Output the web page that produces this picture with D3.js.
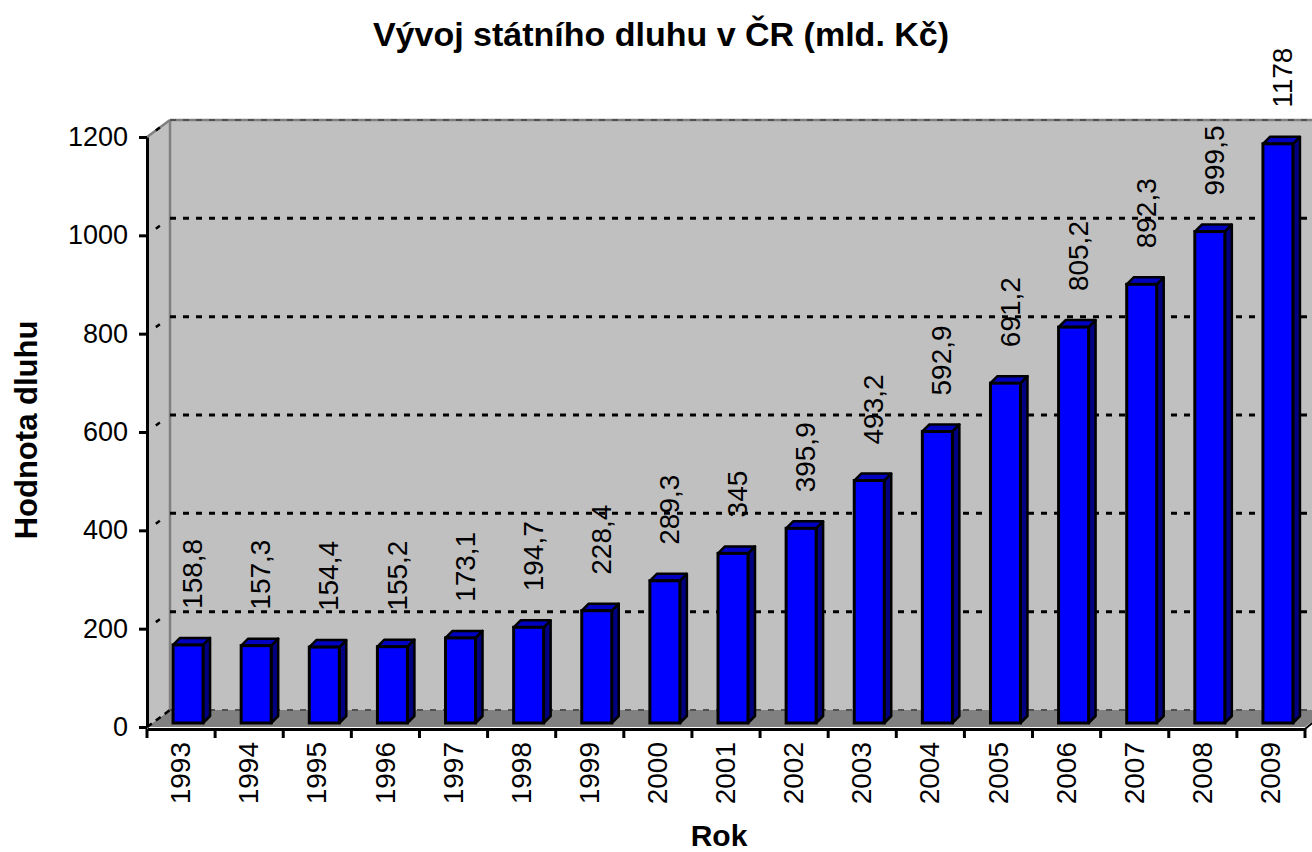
<!DOCTYPE html>
<html>
<head>
<meta charset="utf-8">
<script src="https://cdn.jsdelivr.net/npm/d3@7"></script>
<style>
  body { margin: 0; background: #fff; }
  svg { display: block; }
  text { font-family: "Liberation Sans", Arial, sans-serif; fill: #000; }
</style>
</head>
<body>
<svg id="chart" width="1312" height="852"></svg>
<script>
const years = ["1993","1994","1995","1996","1997","1998","1999","2000","2001",
  "2002","2003","2004","2005","2006","2007","2008","2009"];
const debt = [158.8, 157.3, 154.4, 155.2, 173.1, 194.7, 228.4, 289.3, 345,
  395.9, 493.2, 592.9, 691.2, 805.2, 892.3, 999.5, 1178];
const debtLabels = ["158,8","157,3","154,4","155,2","173,1","194,7","228,4","289,3","345",
  "395,9","493,2","592,9","691,2","805,2","892,3","999,5","1178"];
const yTicks = [0, 200, 400, 600, 800, 1000, 1200];

const svg = d3.select("#chart");
const wallDx = 23, wallDy = -17;   // depth of the back wall
const barDx = 7, barDy = -7;       // depth of each bar
const frontDx = 7, frontDy = -4;   // bar front face offset into the floor
const barW = 30;
const font = "Liberation Sans, Arial, sans-serif";

const xScale = d3.scaleBand().domain(years).range([147, 1305]);
const yScale = d3.scaleLinear().domain([0, 1200]).range([727, 137]);
const x0 = xScale.range()[0], x1 = xScale.range()[1];
const yBottom = yScale(0), yTop = yScale(1200);

// back wall
svg.append("rect")
  .attr("x", x0 + wallDx).attr("y", yTop + wallDy)
  .attr("width", x1 - x0).attr("height", yBottom - yTop)
  .attr("fill", "#c0c0c0");

// left side wall
svg.append("polygon")
  .attr("points", [[x0, yBottom], [x0, yTop], [x0 + wallDx, yTop + wallDy], [x0 + wallDx, yBottom + wallDy]].join(" "))
  .attr("fill", "#c0c0c0");

// floor
svg.append("polygon")
  .attr("points", [[x0, yBottom], [x1, yBottom], [x1 + wallDx, yBottom + wallDy], [x0 + wallDx, yBottom + wallDy]].join(" "))
  .attr("fill", "#808080");

// wall edges
svg.append("line")
  .attr("x1", x0 + wallDx).attr("x2", x0 + wallDx)
  .attr("y1", yTop + wallDy).attr("y2", yBottom + wallDy)
  .attr("stroke", "#808080").attr("stroke-width", 2.5);
svg.append("line")
  .attr("x1", x0).attr("y1", yTop)
  .attr("x2", x0 + wallDx).attr("y2", yTop + wallDy)
  .attr("stroke", "#808080").attr("stroke-width", 2.5);
svg.append("line")
  .attr("x1", x0 + wallDx).attr("y1", yTop + wallDy)
  .attr("x2", 1312).attr("y2", yTop + wallDy)
  .attr("stroke", "#808080").attr("stroke-width", 2.5);

// gridlines on back wall
svg.selectAll("line.grid")
  .data(yTicks)
  .join("line")
  .attr("class", "grid")
  .attr("x1", x0 + wallDx).attr("x2", 1312)
  .attr("y1", d => yScale(d) + wallDy).attr("y2", d => yScale(d) + wallDy)
  .attr("stroke", d => (d === 0 || d === 1200) ? "#505050" : "#000")
  .attr("stroke-width", d => (d === 0 || d === 1200) ? 2 : 3)
  .attr("stroke-dasharray", "6,7");

// gridline continuation on side wall
svg.selectAll("line.sidegrid")
  .data(yTicks)
  .join("line")
  .attr("class", "sidegrid")
  .attr("x1", x0).attr("y1", d => yScale(d))
  .attr("x2", x0 + wallDx).attr("y2", d => yScale(d) + wallDy)
  .attr("stroke", "#000").attr("stroke-width", 2.5)
  .attr("stroke-dasharray", d => d === 0 ? "6,5" : "0,11,5,30");

// bars
const bars = svg.selectAll("g.bar")
  .data(years.map((y, i) => ({year: y, value: debt[i], label: debtLabels[i]})))
  .join("g")
  .attr("class", "bar");

const fx = d => xScale(d.year) + (xScale.bandwidth() - barW) / 2 + frontDx;
const fyBase = yBottom + frontDy;
const fyTop = d => yScale(d.value) + frontDy;

bars.append("polygon") // side
  .attr("points", d => [[fx(d) + barW, fyBase], [fx(d) + barW, fyTop(d)],
    [fx(d) + barW + barDx, fyTop(d) + barDy], [fx(d) + barW + barDx, fyBase + barDy]].join(" "))
  .attr("fill", "#000080").attr("stroke", "#000").attr("stroke-width", 2.5)
  .attr("stroke-linejoin", "round");
bars.append("polygon") // top
  .attr("points", d => [[fx(d), fyTop(d)], [fx(d) + barW, fyTop(d)],
    [fx(d) + barW + barDx, fyTop(d) + barDy], [fx(d) + barDx, fyTop(d) + barDy]].join(" "))
  .attr("fill", "#0000c0").attr("stroke", "#000").attr("stroke-width", 2.5)
  .attr("stroke-linejoin", "round");
bars.append("rect") // front
  .attr("x", fx).attr("y", fyTop)
  .attr("width", barW).attr("height", d => fyBase - fyTop(d))
  .attr("fill", "#0000ff").attr("stroke", "#000").attr("stroke-width", 3);

// value labels
bars.append("text")
  .attr("transform", d => `translate(${fx(d) + barW / 2 + 4},${fyTop(d) - 36}) rotate(-90)`)
  .attr("dy", "0.36em")
  .attr("font-size", 28)
  .text(d => d.label);

// axes
const yAxis = d3.axisLeft(yScale).tickValues(yTicks).tickFormat(d3.format("d"))
  .tickSize(8).tickPadding(11).tickSizeOuter(0);
const yAxisG = svg.append("g").attr("transform", `translate(${x0},0)`).call(yAxis);
yAxisG.attr("font-size", 27).attr("font-family", font);
yAxisG.selectAll("text").attr("fill", "#000");
yAxisG.selectAll("line, path").attr("stroke", "#000").attr("stroke-width", 3);

const xAxis = d3.axisBottom(xScale).tickSize(0).tickPadding(0);
const xAxisG = svg.append("g").attr("transform", `translate(0,${yBottom + 2})`).call(xAxis);
xAxisG.attr("font-size", 28).attr("font-family", font);
xAxisG.select("path").attr("stroke", "#000").attr("stroke-width", 3);
xAxisG.selectAll("text")
  .attr("fill", "#000")
  .attr("transform", "translate(-1,13) rotate(-90)")
  .attr("text-anchor", "end").attr("dy", "0.36em").attr("y", 0).attr("x", 0);
// tick marks at band boundaries
xAxisG.selectAll("line.bound")
  .data(years.concat(["end"]))
  .join("line")
  .attr("class", "bound")
  .attr("x1", (d, i) => x0 + i * xScale.step()).attr("x2", (d, i) => x0 + i * xScale.step())
  .attr("y1", 0).attr("y2", 9)
  .attr("stroke", "#000").attr("stroke-width", 3);
// floor front-right edge
svg.append("line")
  .attr("x1", x1).attr("y1", yBottom + 2)
  .attr("x2", x1 + wallDx).attr("y2", yBottom + wallDy)
  .attr("stroke", "#000").attr("stroke-width", 2);

// titles
svg.append("text")
  .attr("x", 661).attr("y", 46)
  .attr("text-anchor", "middle")
  .attr("font-size", 34).attr("font-weight", "bold")
  .text("Vývoj státního dluhu v ČR (mld. Kč)");
svg.append("text")
  .attr("transform", "translate(37,430) rotate(-90)")
  .attr("text-anchor", "middle")
  .attr("font-size", 31).attr("font-weight", "bold")
  .text("Hodnota dluhu");
svg.append("text")
  .attr("x", 719).attr("y", 846)
  .attr("text-anchor", "middle")
  .attr("font-size", 30).attr("font-weight", "bold")
  .text("Rok");
</script>
</body>
</html>
